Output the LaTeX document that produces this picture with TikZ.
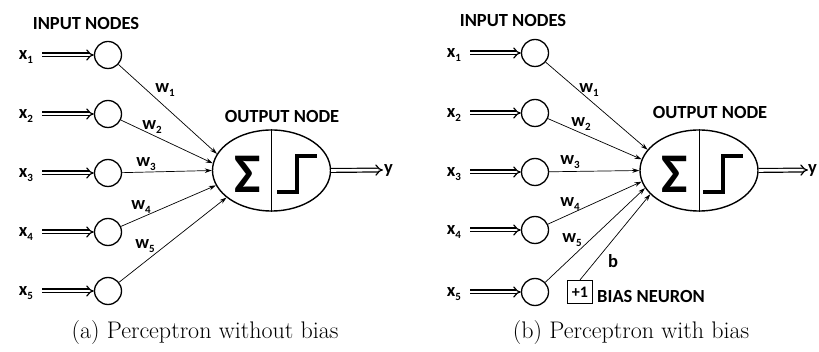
\documentclass[tikz,border=0pt]{standalone}
\usepackage{fontspec}
\newfontfamily\calfont{Carlito}
\usetikzlibrary{arrows.meta,shapes.geometric}
\newcommand{\xl}[1]{x\raisebox{-4pt}{\fontsize{11}{11}\selectfont #1}}
\newcommand{\wl}[1]{w\raisebox{-4pt}{\fontsize{11}{11}\selectfont #1}}
\tikzset{
  sans/.style={font=\calfont\bfseries\fontsize{18.5}{20}\selectfont, inner sep=1pt},
  inp/.style={circle, draw, line width=1.3pt, minimum size=27pt, inner sep=0pt},
  outnode/.style={ellipse, draw, line width=1.4pt, minimum width=118pt, minimum height=81pt, inner sep=0pt},
  dbl/.style={double, double distance=2.6pt, line width=1.2pt, -{Implies}},
  wt/.style={line width=0.7pt, -{Stealth[length=7pt,width=4.5pt]}},
  stepfn/.style={line width=4pt},
  divider/.style={line width=0.7pt},
  sigma/.style={font=\calfont\bfseries\fontsize{56}{56}\selectfont, inner sep=0pt},
  capt/.style={font=\fontsize{24}{28}\selectfont, inner sep=0pt},
  biasbox/.style={draw, line width=1.2pt, minimum width=25pt, minimum height=23pt, inner sep=0pt, font=\calfont\bfseries\fontsize{16}{18}\selectfont}
}
\begin{document}
\begin{tikzpicture}[x=1pt,y=-1pt]
\useasboundingbox (0,0) rectangle (819,352);
% ---------- left panel ----------
\node[sans] (inl) at (86,24) {INPUT NODES};
\foreach \i/\yy in {1/55,2/114,3/173,4/232,5/291}{
  \node[sans] (xa\i) at (26,\yy+2) {\xl{\i}};
  \node[inp] (ca\i) at (108,\yy) {};
  \coordinate (sa\i) at (42,\yy);
  \draw[dbl] (sa\i) -- (ca\i.west);
}
\node[outnode] (oa) at (271.5,170.5) {};
\node[sans] (onl) at (282,117) {OUTPUT NODE};
\draw[divider] (oa.north) -- (oa.south);
\node[sigma] (sga) at (248,174) {Σ};
\coordinate (pa1) at (277,192);
\coordinate (pa2) at (297,192);
\coordinate (pa3) at (297,156);
\coordinate (pa4) at (317,156);
\draw[stepfn] (pa1) -- (pa2) -- (pa3) -- (pa4);
\draw[wt] (ca1) -- (oa.163);
\draw[wt] (ca2) -- (oa.173);
\draw[wt] (ca3) -- (oa.180);
\draw[wt] (ca4) -- (oa.195);
\draw[wt] (ca5) -- (oa.211);
\node[sans] at (165,90) {\wl{1}};
\node[sans] at (152,127) {\wl{2}};
\node[sans] at (146,164) {\wl{3}};
\node[sans] at (141,207) {\wl{4}};
\node[sans] at (145,246) {\wl{5}};
\node[sans, anchor=west] (ya) at (383,170) {y};
\draw[dbl] (oa.east) -- (ya.west);
\node[capt] (capa) at (205,333) {(a) Perceptron without bias};
% ---------- right panel ----------
\node[sans] (inr) at (513,21) {INPUT NODES};
\foreach \i/\yy in {1/53,2/113,3/172,4/230,5/292}{
  \node[sans] (xb\i) at (454,\yy+2) {\xl{\i}};
  \node[inp] (cb\i) at (535,\yy) {};
  \coordinate (sb\i) at (470,\yy);
  \draw[dbl] (sb\i) -- (cb\i.west);
}
\node[outnode] (ob) at (699,170.5) {};
\node[sans] (onr) at (710,113) {OUTPUT NODE};
\draw[divider] (ob.north) -- (ob.south);
\node[sigma] (sgb) at (675,174) {Σ};
\coordinate (pb1) at (703,192);
\coordinate (pb2) at (723,192);
\coordinate (pb3) at (723,156);
\coordinate (pb4) at (743,156);
\draw[stepfn] (pb1) -- (pb2) -- (pb3) -- (pb4);
\draw[wt] (cb1) -- (ob.158);
\draw[wt] (cb2) -- (ob.169);
\draw[wt] (cb3) -- (ob.180);
\draw[wt] (cb4) -- (ob.191);
\draw[wt] (cb5) -- (ob.198);
\node[sans] at (589,90) {\wl{1}};
\node[sans] at (581,124) {\wl{2}};
\node[sans] at (570,162) {\wl{3}};
\node[sans] at (570,204) {\wl{4}};
\node[sans] at (572,240) {\wl{5}};
\node[biasbox] (bias) at (580,292) {+1};
\node[sans, anchor=west] (bn) at (596,297) {BIAS NEURON};
\draw[wt] (bias.north) -- (ob.206);
\node[sans] at (613,261) {b};
\node[sans, anchor=west, inner sep=0pt] (yb) at (808,170) {y};
\draw[dbl] (ob.east) -- (yb.west);
\node[capt] (capb) at (631,333) {(b) Perceptron with bias};
\end{tikzpicture}
\end{document}
